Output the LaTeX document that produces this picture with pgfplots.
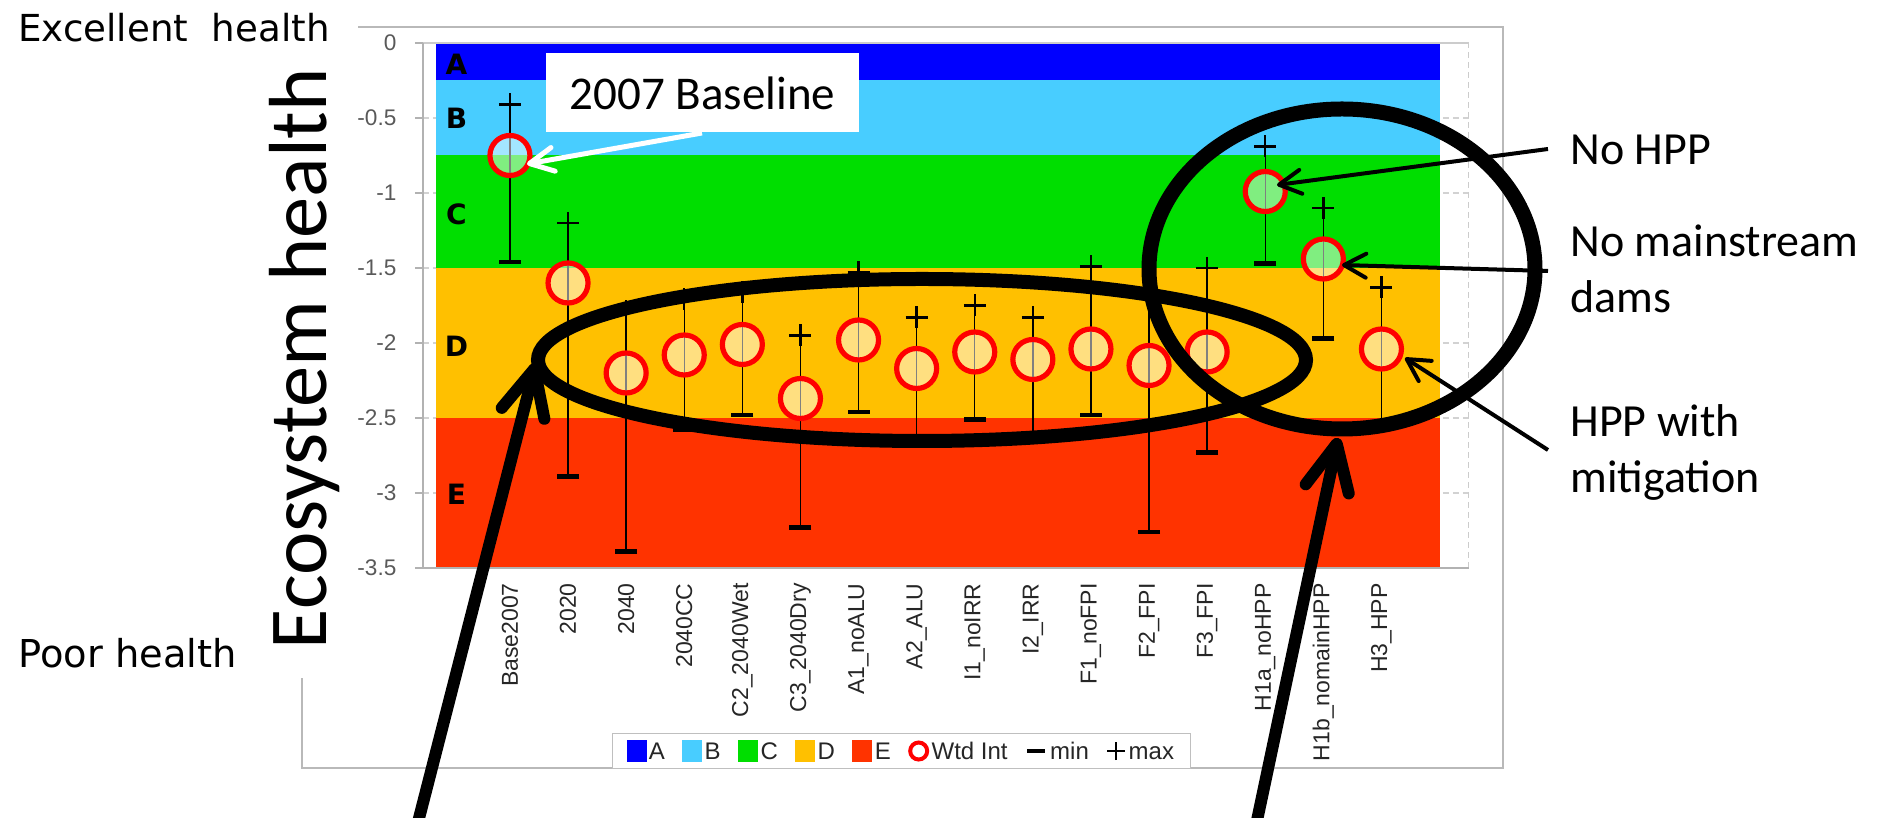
\documentclass[border=0pt]{standalone}
\usepackage{pgfplots}
\pgfplotsset{compat=1.18}
\usepackage{pgfplotstable}
\usetikzlibrary{arrows.meta}
\usepackage{fontspec}
\setmainfont{Liberation Sans}
\newfontfamily\dejavu{DejaVu Sans}
\newfontfamily\dejavub{DejaVu Sans Bold}
\newfontfamily\carlito{Carlito}
\definecolor{bA}{RGB}{0,0,255}
\definecolor{bB}{RGB}{72,205,255}
\definecolor{bC}{RGB}{0,222,0}
\definecolor{bD}{RGB}{255,192,0}
\definecolor{bE}{RGB}{255,51,0}
\pgfplotsset{bandleg/.style={legend image code/.code={\path[draw=none,fill=none] (0pt,-5.5pt) rectangle (10pt,5.5pt);\fill[##1] (0pt,-5.5pt) rectangle (10pt,5.5pt);}}}

\pgfplotstableread{
x w mn mx
1 -0.75 -1.46 -0.41
2 -1.60 -2.89 -1.20
3 -2.20 -3.39 -1.79
4 -2.08 -2.58 -1.71
5 -2.01 -2.48 -1.66
6 -2.37 -3.23 -1.95
7 -1.98 -2.46 -1.53
8 -2.17 -2.62 -1.83
9 -2.06 -2.51 -1.75
10 -2.11 -2.60 -1.83
11 -2.04 -2.48 -1.49
12 -2.15 -3.26 -1.69
13 -2.06 -2.73 -1.50
14 -0.99 -1.47 -0.69
15 -1.44 -1.97 -1.10
16 -2.04 -2.55 -1.63
}\data

\begin{document}
\begin{tikzpicture}[x=0.5pt,y=0.5pt]
% chart area border
\draw[gray!55, line width=0.7pt] (358,791) -- (1503,791) -- (1503,50) -- (302,50) -- (302,140);
\begin{axis}[
  at={(211.4pt,125pt)}, anchor=south west,
  scale only axis, width=522.9pt, height=262.5pt,
  xmin=-0.5, xmax=17.5, ymin=-3.5, ymax=0,
  clip=false,
  axis line style={draw=none},
  ytick={-3.5,-3,-2.5,-2,-1.5,-1,-0.5,0},
  yticklabels={-3.5,-3,-2.5,-2,-1.5,-1,-0.5,0},
  xtick={1,...,16},
  xticklabels={Base2007,2020,2040,2040CC,C2\_2040Wet,C3\_2040Dry,A1\_noALU,A2\_ALU,I1\_noIRR,I2\_IRR,F1\_noFPI,F2\_FPI,F3\_FPI,H1a\_noHPP,H1b\_nomainHPP,H3\_HPP},
  minor xtick={0.5,1.5,...,16.5},
  ytick align=outside, xtick align=inside,
  major tick length=4pt, minor tick length=4.5pt,
  ytick pos=left, xtick pos=right, xticklabel pos=left,
  tick style={gray!60, line width=0.6pt},
  major x tick style={draw=none},
  ymajorgrids,
  y grid style={gray!35, dash pattern=on 3pt off 2pt, line width=0.6pt},
  yticklabel style={font=\fontsize{11.3}{12}\selectfont, color=black!65, anchor=east, inner xsep=0pt, xshift=-9pt},
  xticklabel style={font=\fontsize{11.5}{12}\selectfont, color=black!85, rotate=90, anchor=east, inner xsep=7.5pt, inner ysep=0pt},
  legend columns=-1,
  legend style={at={(axis description cs:0.4577,-0.3486)}, anchor=center, draw=gray!50, line width=0.6pt,
    font=\fontsize{12}{14}\selectfont, text=black!85, inner xsep=7pt, inner ysep=2pt,
    nodes={inner sep=1.2pt},
    /tikz/every even column/.append style={column sep=7.5pt}},
]
% quality bands
\addplot[fill=bA, draw=none, bandleg] coordinates {(-0.28,0) (17,0) (17,-0.25) (-0.28,-0.25)};
\addplot[fill=bB, draw=none, bandleg] coordinates {(-0.28,-0.25) (17,-0.25) (17,-0.75) (-0.28,-0.75)};
\addplot[fill=bC, draw=none, bandleg] coordinates {(-0.28,-0.75) (17,-0.75) (17,-1.5) (-0.28,-1.5)};
\addplot[fill=bD, draw=none, bandleg] coordinates {(-0.28,-1.5) (17,-1.5) (17,-2.5) (-0.28,-2.5)};
\addplot[fill=bE, draw=none, bandleg] coordinates {(-0.28,-2.5) (17,-2.5) (17,-3.5) (-0.28,-3.5)};
% plot border
\draw[gray!40, line width=0.6pt] (rel axis cs:0,1) -- (rel axis cs:1,1);
\draw[gray!40, line width=0.6pt, dash pattern=on 3pt off 2pt] (rel axis cs:1,0) -- (rel axis cs:1,1);
\draw[gray!60, line width=0.7pt] (rel axis cs:0,1) -- (rel axis cs:0,0) -- (rel axis cs:1,0);
% band letters
\node[font=\dejavub\fontsize{14}{15}\selectfont, inner sep=0pt] at (axis cs:0.08,-0.14) {A};
\node[font=\dejavub\fontsize{14}{15}\selectfont, inner sep=0pt] at (axis cs:0.08,-0.50) {B};
\node[font=\dejavub\fontsize{14}{15}\selectfont, inner sep=0pt] at (axis cs:0.08,-1.14) {C};
\node[font=\dejavub\fontsize{14}{15}\selectfont, inner sep=0pt] at (axis cs:0.08,-2.02) {D};
\node[font=\dejavub\fontsize{14}{15}\selectfont, inner sep=0pt] at (axis cs:0.08,-3.01) {E};
% min-max lines
\addplot[forget plot, draw=none, mark=none,
  error bars/.cd, y dir=both, y explicit, error mark=none,
  error bar style={draw=black, line width=0.7pt}]
  table[x=x, y=w, y error plus expr=\thisrow{mx}-\thisrow{w}, y error minus expr=\thisrow{w}-\thisrow{mn}] {\data};
% weighted integrity
\addplot[only marks, mark=*, mark size=10pt,
  mark options={draw=red, fill=white, fill opacity=0.5, line width=2.6pt},
  legend image code/.code={\path[draw=none,fill=none] (0pt,-5.5pt) rectangle (10pt,5.5pt);\draw[red, line width=2pt, fill=white] (5pt,0pt) circle (4.25pt);}]
  table[x=x, y=w] {\data};
% min
\addplot[only marks, mark=-, mark size=5.5pt, mark options={black, line width=2.4pt},
  legend image code/.code={\path[draw=none,fill=none] (0pt,-5.5pt) rectangle (10pt,5.5pt);\draw[black, line width=2.4pt] (0.5pt,0pt) -- (9.5pt,0pt);}]
  table[x=x, y=mn] {\data};
% max
\addplot[only marks, mark=+, mark size=5.5pt, mark options={black, line width=1.2pt},
  legend image code/.code={\path[draw=none,fill=none] (0pt,-5.5pt) rectangle (10pt,5.5pt);\draw[black, line width=0.8pt] (5pt,-4.5pt) -- (5pt,4.5pt) (0.5pt,0pt) -- (9.5pt,0pt);}]
  table[x=x, y=mx] {\data};
\legend{A\strut,B\strut,C\strut,D\strut,E\strut,Wtd Int\strut,min\strut,max\strut}
\end{axis}
% 2007 Baseline callout
\fill[white] (546,765) rectangle (859,686);
\node[anchor=base, inner sep=0pt, font=\carlito\fontsize{23.5}{26}\selectfont] at (702.5,708.6) {2007 Baseline};
\draw[white, line width=2.5pt, -{Straight Barb[length=12pt, width=12pt, round]}] (702,685) -- (527,654);
% ellipses
\draw[line width=7pt] (922,458) ellipse [x radius=384, y radius=81];
\draw[line width=7.5pt] (1342,549) ellipse [x radius=193, y radius=160];
% thick arrows
\draw[line width=6pt, -{Straight Barb[length=23pt, width=22pt, round]}] (416,-12) -- (536,455);
\draw[line width=6pt, -{Straight Barb[length=23pt, width=22pt, round]}] (1255,-12) -- (1338,380);
% thin arrows
\draw[line width=2pt, -{Straight Barb[length=11pt, width=12pt, round]}] (1548,669) -- (1277,633);
\draw[line width=2pt, -{Straight Barb[length=11pt, width=12pt, round]}] (1548,547) -- (1342,553);
\draw[line width=2pt, -{Straight Barb[length=11pt, width=12pt, round]}] (1548,368) -- (1405,460);
% right texts
\node[anchor=base west, inner sep=0pt, font=\carlito\fontsize{23}{26}\selectfont] at (1570,653) {No HPP};
\node[anchor=base west, inner sep=0pt, font=\carlito\fontsize{23}{26}\selectfont] at (1570,561.3) {No mainstream};
\node[anchor=base west, inner sep=0pt, font=\carlito\fontsize{23}{26}\selectfont] at (1570,505) {dams};
\node[anchor=base west, inner sep=0pt, font=\carlito\fontsize{23}{26}\selectfont] at (1570,381.3) {HPP with};
\node[anchor=base west, inner sep=0pt, font=\carlito\fontsize{23}{26}\selectfont] at (1570,325) {mitigation};
% left texts
\node[anchor=base west, inner sep=0pt, font=\dejavu\fontsize{18.6}{21}\selectfont] at (18,776) {Excellent\ \ health};
\node[anchor=base west, inner sep=0pt, font=\dejavu\fontsize{19.2}{21}\selectfont] at (18,150) {Poor health};
\node[rotate=90, anchor=base, inner sep=0pt, font=\carlito\fontsize{41.2}{44}\selectfont] at (326,459.4) {Ecosystem health};
\pgfresetboundingbox
\path[use as bounding box] (0,0) rectangle (1881,818);
\end{tikzpicture}
\end{document}
